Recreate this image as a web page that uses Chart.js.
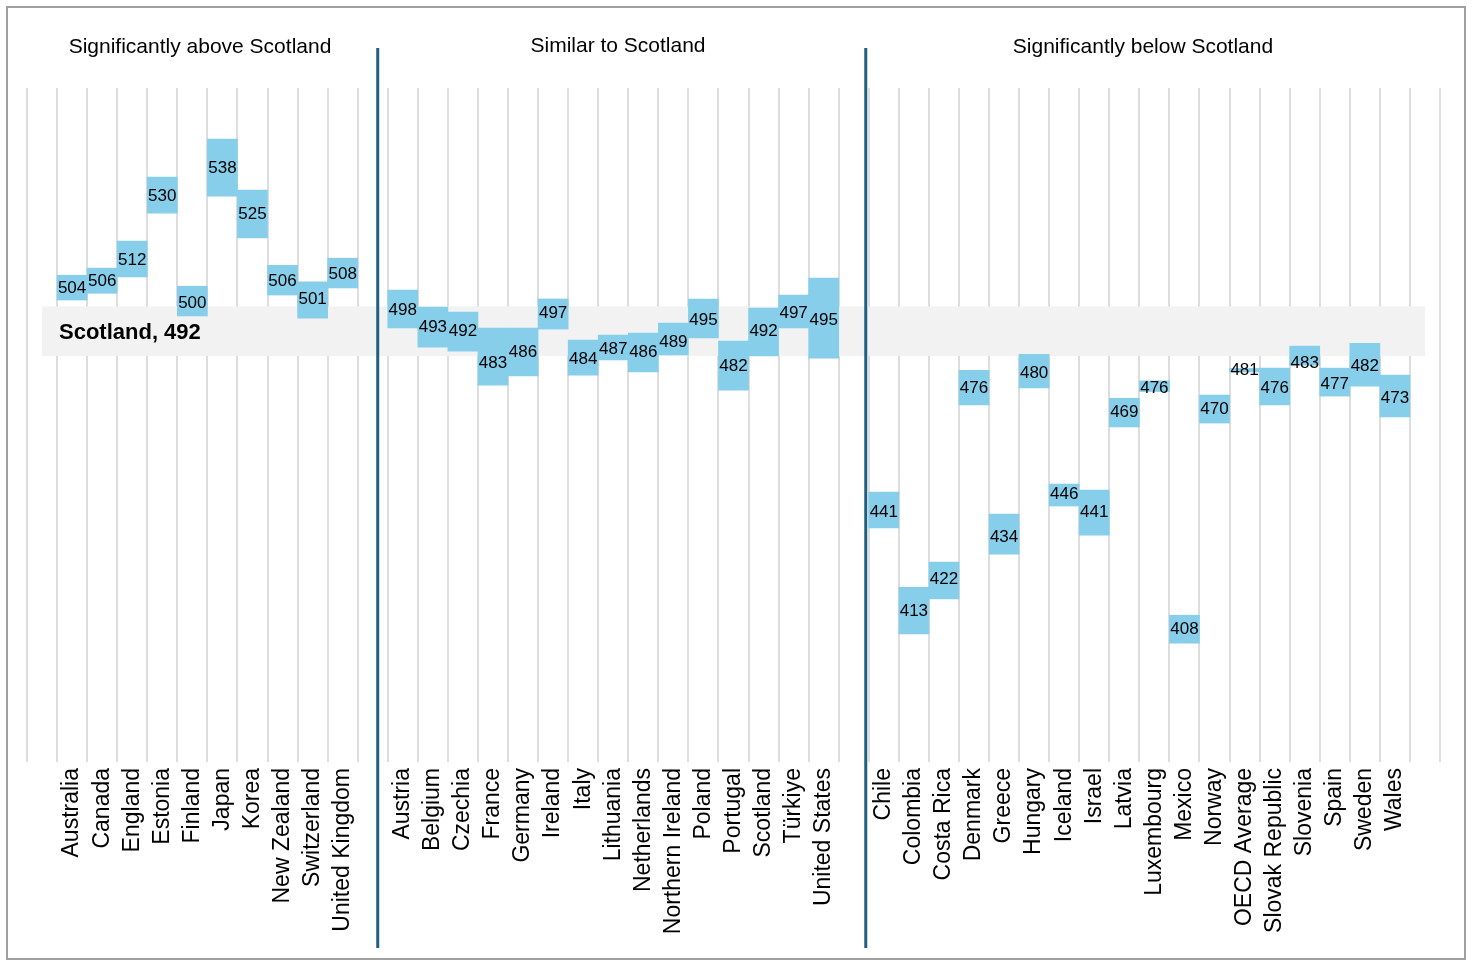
<!DOCTYPE html>
<html><head><meta charset="utf-8">
<script src="https://cdn.jsdelivr.net/npm/chart.js@4"></script>
<style>html,body{margin:0;padding:0;background:#fff}#w{position:absolute;left:0;top:0;width:1474px;height:968px}
#b{position:absolute;left:6px;top:6px;width:1456px;height:950px;border:2px solid #a0a0a0}</style>
</head><body><div id="b"></div><div id="w"><canvas id="c"></canvas></div>
<script>
const categories = ['', 'Australia','Canada','England','Estonia','Finland','Japan','Korea','New Zealand','Switzerland','United Kingdom', '',
 'Austria','Belgium','Czechia','France','Germany','Ireland','Italy','Lithuania','Netherlands','Northern Ireland','Poland','Portugal','Scotland','Türkiye','United States', '',
 'Chile','Colombia','Costa Rica','Denmark','Greece','Hungary','Iceland','Israel','Latvia','Luxembourg','Mexico','Norway','OECD Average','Slovak Republic','Slovenia','Spain','Sweden','Wales', ''];
const means = [null,504,506,512,530,500,538,525,506,501,508,null,
 498,493,492,483,486,497,484,487,486,489,495,482,492,497,495,null,
 441,413,422,476,434,480,446,441,469,476,408,470,481,476,483,477,482,473,null];
const lows = [null,500.8,502.7,507.3,525.3,496.3,530.1,518.3,502.2,495.7,504.2,null,
 492.9,487.5,486.4,476.8,479.4,492.6,479.6,483.9,480.5,485.3,490.1,475.4,485,492.9,484.4,null,
 436.5,406.6,416.5,471.2,429.1,476,442.7,434.5,465,475,404,466.1,480.5,471.2,482.4,473.7,476.5,467.8,null];
const highs = [null,507.8,509.8,517.4,535.5,504.7,546.2,531.8,510.6,505.9,512.6,null,
 503.6,498.8,497.4,492.9,492.9,501.1,489.5,490.9,491.5,494.3,501.1,489.2,498.5,502.2,507,null,
 446.6,419.8,426.9,481,440.4,485.5,448.9,447.2,473.1,478,411.9,474,481.5,481.6,487.8,481.6,488.6,479.6,null];
const groupTitles = ['Significantly above Scotland','Similar to Scotland','Significantly below Scotland'];
const scotlandValue = 492, scotlandBand = [485, 499];

const overlay = {
  id:'overlay',
  beforeDatasetsDraw(ch){
    const {ctx, scales:{x,y}} = ch;
    ctx.save();
    ctx.fillStyle='#f2f2f2';
    const y1=y.getPixelForValue(scotlandBand[1]), y0=y.getPixelForValue(scotlandBand[0]);
    ctx.fillRect(42,y1,1425-42,y0-y1);
    ctx.restore();
  },
  afterDatasetsDraw(ch){
    const {ctx, scales:{x,y}} = ch;
    ctx.save();
    ctx.fillStyle='#000'; ctx.textAlign='center'; ctx.textBaseline='middle';
    ctx.font='17px "Liberation Sans", Arial, sans-serif';
    means.forEach((m,i)=>{ if(m==null) return; ctx.fillText(String(m), x.getPixelForValue(i), y.getPixelForValue(m)); });
    ctx.font='bold 22px "Liberation Sans", Arial, sans-serif'; ctx.textAlign='left';
    ctx.fillText('Scotland, '+scotlandValue, 59, y.getPixelForValue(scotlandValue)+2);
    ctx.strokeStyle='#1f5f80'; ctx.lineWidth=3;
    [[11,5],[27,12]].forEach(([i,d])=>{ const px=x.getPixelForValue(i)+d; ctx.beginPath(); ctx.moveTo(px,48); ctx.lineTo(px,948); ctx.stroke(); });
    ctx.font='21px "Liberation Sans", Arial, sans-serif'; ctx.textAlign='center';
    const cx=[200,618,1143], cy=[47,46,47];
    groupTitles.forEach((t,i)=>ctx.fillText(t,cx[i],cy[i]));
    ctx.restore();
  }
};

new Chart(document.getElementById('c'),{
  type:'bar',
  data:{labels:categories, datasets:[{data:categories.map((c,i)=>lows[i]==null?null:[lows[i],highs[i]]),
    backgroundColor:'#87ceeb', borderWidth:0, barPercentage:1, categoryPercentage:1}]},
  options:{responsive:true, maintainAspectRatio:false, animation:false,
    layout:{padding:{left:27,right:34,top:88,bottom:0}},
    plugins:{legend:{display:false}, tooltip:{enabled:false}},
    scales:{
      x:{offset:true, grid:{offset:true, color:'#dddddd', lineWidth:2, drawTicks:false}, border:{display:false},
        ticks:{minRotation:90,maxRotation:90,autoSkip:false,color:'#000',padding:6,font:{size:23,family:'"Liberation Sans", Arial, sans-serif'}},
        afterFit(s){s.height=206;}},
      y:{display:false, min:370.5, max:560.6}
    }},
  plugins:[overlay]
});
</script></body></html>
